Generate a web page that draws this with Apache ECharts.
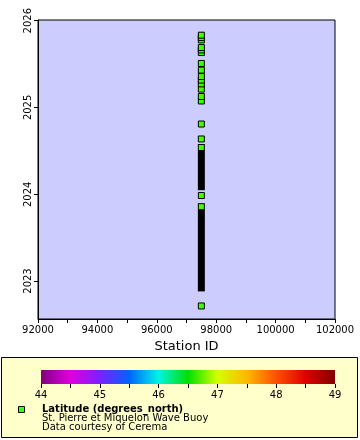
<!DOCTYPE html>
<html><head><meta charset="utf-8">
<script src="https://cdn.jsdelivr.net/npm/echarts@6/dist/echarts.min.js"></script>
<style>html,body{margin:0;padding:0;background:#fff}#c{width:360px;height:440px}</style>
</head><body><div id="c"></div>
<script>
// ---- data ----
const stationId = 97500;
// isolated observation times (Latitude ~46.7 N, colour green)
const isolatedTimes = [
  '2022-09-18', '2023-12-27', '2024-08-21', '2024-10-23',
  '2025-01-28', '2025-02-16', '2025-03-19', '2025-04-10', '2025-04-26',
  '2025-05-11', '2025-06-07', '2025-07-05', '2025-08-20', '2025-08-31',
  '2025-09-10', '2025-10-12', '2025-10-22', '2025-11-01'
];
// periods of continuous (hourly) observations: [start, end]
const continuousStarts = ['2022-12-03', '2024-02-02'];
const continuousEnds   = ['2023-11-10', '2024-07-16'];
const latitudeValue = 46.7;
const colorStops = [44, 44.5, 45, 45.5, 46, 46.5, 47, 47.5, 48, 48.5, 49];
const colorList = ['#800080', '#e000e0', '#7a20ff', '#0064ff', '#00f4e4', '#00e000',
                   '#d4ff00', '#ffb800', '#ff5000', '#e00000', '#800000'];
const xTicks = [92000, 94000, 96000, 98000, 100000, 102000];
const cbTicks = [44, 45, 46, 47, 48, 49];
const yMin = '2022-07-25', yMax = '2026-01-04';

const markColor = '#40ff00';
const FONT = 'DejaVu Sans';

const chart = echarts.init(document.getElementById('c'), null, {renderer: 'canvas'});
const gradStops = colorStops.map((v, i) => ({offset: (v - 44) / 5, color: colorList[i]}));

chart.setOption({
  animation: false,
  textStyle: {fontFamily: FONT},
  grid: [
    {left: 38, top: 20, width: 297, height: 299, show: true, backgroundColor: '#ccccff',
     borderColor: '#000', borderWidth: 1, containLabel: false},
    {left: 41, top: 370, width: 294, height: 14, show: false, containLabel: false}
  ],
  xAxis: [
    {type: 'value', gridIndex: 0, min: xTicks[0], max: xTicks[xTicks.length - 1], interval: 2000,
     name: 'Station ID', nameLocation: 'middle', nameGap: 21,
     nameTextStyle: {fontFamily: FONT, fontSize: 13, color: '#000'},
     axisLine: {show: true, onZero: false, lineStyle: {color: '#000', width: 1}},
     axisTick: {show: true, length: 4, inside: false, lineStyle: {color: '#000'}},
     minorTick: {show: true, splitNumber: 2, length: 4, lineStyle: {color: '#000'}},
     axisLabel: {fontFamily: FONT, fontSize: 10, color: '#000', margin: 6, showMinLabel: true, showMaxLabel: true,
       formatter: v => String(v)},
     splitLine: {show: false}},
    {type: 'value', gridIndex: 1, min: 44, max: 49, interval: 0.5,
     axisLine: {show: false},
     axisTick: {show: true, length: 4, lineStyle: {color: '#000'}},
     axisLabel: {fontFamily: FONT, fontSize: 10, color: '#000', margin: 6,
       formatter: v => (Math.abs(v - Math.round(v)) < 1e-6 ? String(Math.round(v)) : '')},
     splitLine: {show: false}}
  ],
  yAxis: [
    {type: 'time', gridIndex: 0, min: yMin, max: yMax,
     minInterval: 365 * 86400000, maxInterval: 366 * 86400000,
     axisLine: {show: true, onZero: false, lineStyle: {color: '#000', width: 1}},
     axisTick: {show: true, length: 4, lineStyle: {color: '#000'}},
     axisLabel: {fontFamily: FONT, fontSize: 10, color: '#000', rotate: 90, margin: 5,
       formatter: v => String(new Date(v).getUTCFullYear() + (new Date(v).getUTCMonth() === 11 ? 1 : 0))},
     splitLine: {show: false}},
    {type: 'value', gridIndex: 1, min: 0, max: 1, show: false}
  ],
  series: [
    {type: 'custom', xAxisIndex: 0, yAxisIndex: 0, z: 3,
     data: continuousStarts.map((s, i) => [stationId, s, continuousEnds[i]]),
     encode: {x: 0, y: [1, 2]},
     renderItem: function (params, api) {
       const p0 = api.coord([api.value(0), api.value(1)]);
       const p1 = api.coord([api.value(0), api.value(2)]);
       const cx = p0[0];
       return {type: 'group', children: [
         {type: 'rect', shape: {x: cx - 3.5, y: p1[1] - 3.5, width: 7, height: p0[1] - p1[1] + 7},
          style: {fill: '#000'}},
         {type: 'rect', shape: {x: cx - 2.5, y: p1[1] - 2.5, width: 5, height: 5},
          style: {fill: markColor}}
       ]};
     }},
    {type: 'scatter', xAxisIndex: 0, yAxisIndex: 0, z: 4,
     symbol: 'rect', symbolSize: 6,
     itemStyle: {color: markColor, borderColor: '#000', borderWidth: 1, opacity: 1},
     data: isolatedTimes.map(t => [stationId, t])},
    {type: 'custom', xAxisIndex: 1, yAxisIndex: 1, z: 3,
     data: [[44, 49]],
     renderItem: function (params, api) {
       const a = api.coord([api.value(0), 1]);
       const b = api.coord([api.value(1), 0]);
       return {type: 'rect', shape: {x: a[0], y: a[1], width: b[0] - a[0], height: b[1] - a[1]},
         style: {fill: new echarts.graphic.LinearGradient(0, 0, 1, 0, gradStops)}};
     }}
  ],
  graphic: [
    {type: 'rect', z: 0, shape: {x: 1.5, y: 357.5, width: 356, height: 80},
     style: {fill: '#ffffcc', stroke: '#000', lineWidth: 1}},
    {type: 'rect', z: 1, shape: {x: 18.5, y: 406.5, width: 6, height: 6},
     style: {fill: markColor, stroke: '#000', lineWidth: 1}},
    {type: 'text', z: 1, x: 42, y: 404, style: {text: 'Latitude (degrees_north)', fontFamily: FONT,
      fontSize: 10, fontWeight: 'bold', fill: '#000'}},
    {type: 'text', z: 1, x: 42, y: 413, style: {text: 'St. Pierre et Miquelon Wave Buoy', fontFamily: FONT,
      fontSize: 10, fill: '#000'}},
    {type: 'text', z: 1, x: 42, y: 422, style: {text: 'Data courtesy of Cerema', fontFamily: FONT,
      fontSize: 10, fill: '#000'}}
  ]
});
</script></body></html>
